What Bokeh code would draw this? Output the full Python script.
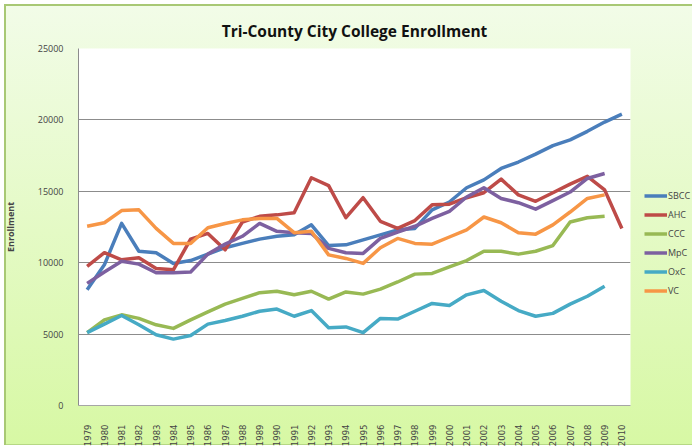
import math
from bokeh.plotting import figure
from bokeh.models import FactorRange, Range1d, Legend, LegendItem, FixedTicker
from bokeh.embed import file_html
from bokeh.resources import INLINE

years = [str(y) for y in range(1979, 2011)]

sbcc = [8100, 9850, 12750, 10800, 10700, 9950, 10150, 10600, 11050, 11350, 11650, 11850,
        11950, 12650, 11200, 11250, 11600, 11950, 12300, 12400, 13700, 14250, 15250, 15800,
        16600, 17050, 17600, 18200, 18600, 19200, 19850, 20400]
ahc = [9750, 10700, 10200, 10350, 9600, 9500, 11650, 12050, 10900, 12850, 13250, 13350,
       13500, 15950, 15400, 13150, 14550, 12900, 12400, 12950, 14050, 14100, 14550, 14900,
       15850, 14750, 14300, 14900, 15500, 16050, 15100, 12400]
ccc = [5100, 6000, 6350, 6100, 5650, 5400, 6000, 6550, 7100, 7500, 7900, 8000,
       7750, 8000, 7450, 7950, 7800, 8150, 8650, 9200, 9250, 9700, 10150, 10800,
       10800, 10600, 10800, 11200, 12850, 13150, 13250]
mpc = [8550, 9350, 10100, 9900, 9300, 9300, 9350, 10600, 11300, 11850, 12750, 12200,
       12100, 12050, 11000, 10700, 10650, 11700, 12150, 12550, 13100, 13600, 14600, 15250,
       14500, 14200, 13750, 14350, 14950, 15900, 16250]
oxc = [5100, 5700, 6300, 5650, 4950, 4650, 4900, 5700, 5950, 6250, 6600, 6750,
       6250, 6650, 5450, 5500, 5100, 6100, 6050, 6600, 7150, 7000, 7750, 8050,
       7300, 6650, 6250, 6450, 7100, 7650, 8350]
vc = [12550, 12800, 13650, 13700, 12400, 11350, 11350, 12450, 12750, 13000, 13100, 13100,
      12100, 12200, 10550, 10300, 9950, 11050, 11700, 11350, 11300, 11800, 12300, 13200,
      12800, 12100, 12000, 12650, 13550, 14500, 14750]

series_names = ["SBCC", "AHC", "CCC", "MpC", "OxC", "VC"]
series_values = [sbcc, ahc, ccc, mpc, oxc, vc]
colors = ["#4A7EBB", "#BE4B48", "#98B954", "#7D60A0", "#46AAC5", "#F79646"]
y_ticks = [0, 5000, 10000, 15000, 20000, 25000]

p = figure(x_range=FactorRange(*years), y_range=Range1d(0, 25000),
           frame_width=552, frame_height=357,
           min_border_left=73, min_border_top=48, min_border_bottom=42, min_border_right=10,
           output_backend="svg", toolbar_location=None,
           title="Tri-County City College Enrollment")
p.styles = {"background": (
    "linear-gradient(#A8C874, #A8C874) 4px 4px / 100% 2px no-repeat, "
    "linear-gradient(#A8C874, #A8C874) 4px 4px / 2px 441px no-repeat, "
    "linear-gradient(#B6D884, #B6D884) 4px 444px / 100% 1px no-repeat, "
    "linear-gradient(#F2FCE8, #D7F8A4) 4px 4px / 100% 441px no-repeat, white")}
p.border_fill_color = None
p.background_fill_color = "white"
p.outline_line_color = None

p.title.align = "center"
p.title.vertical_align = "top"
p.title.text_font = "Open Sans"
p.title.text_font_style = "bold"
p.title.text_font_size = "15.5px"
p.title.text_color = "#111111"
p.title.offset = 0
p.title.standoff = 10

p.yaxis.ticker = FixedTicker(ticks=y_ticks)
p.yaxis.axis_label = "Enrollment"
p.yaxis.axis_label_text_font = "Open Sans"
p.yaxis.axis_label_text_font_style = "bold"
p.yaxis.axis_label_text_font_size = "9px"
p.yaxis.axis_label_standoff = 18
p.yaxis.major_label_text_font = "Open Sans"
p.yaxis.major_label_text_font_size = "9px"
p.yaxis.major_label_standoff = 9
p.yaxis.major_tick_line_color = None
p.yaxis.minor_tick_line_color = None
p.yaxis.axis_line_color = "#8C8C8C"
p.yaxis[0].formatter.use_scientific = False

p.xaxis.major_label_orientation = math.pi / 2
p.xaxis.major_label_text_font = "DejaVu Sans"
p.xaxis.major_label_text_font_size = "8.5px"
p.xaxis.major_label_standoff = 13
p.xaxis.major_tick_line_color = None
p.xaxis.axis_line_color = "#A6A6A6"
p.xaxis.axis_line_width = 1

p.xgrid.grid_line_color = None
p.ygrid.grid_line_color = "#8C8C8C"
p.ygrid.grid_line_width = 1

items = []
for name, vals, col in zip(series_names, series_values, colors):
    r = p.line(years[:len(vals)], vals, line_color=col, line_width=3.5, line_join="round")
    items.append(LegendItem(label=name, renderers=[r]))

legend = Legend(items=items, location=(14, 105))
legend.background_fill_alpha = 0
legend.border_line_color = None
legend.label_text_font = "Open Sans"
legend.label_text_font_size = "9px"
legend.glyph_width = 23
legend.glyph_height = 19
legend.label_height = 19
legend.label_standoff = 1
legend.spacing = 0
legend.padding = 0
legend.margin = 0
p.add_layout(legend, "right")

open("out.html", "w").write(file_html(p, INLINE))
